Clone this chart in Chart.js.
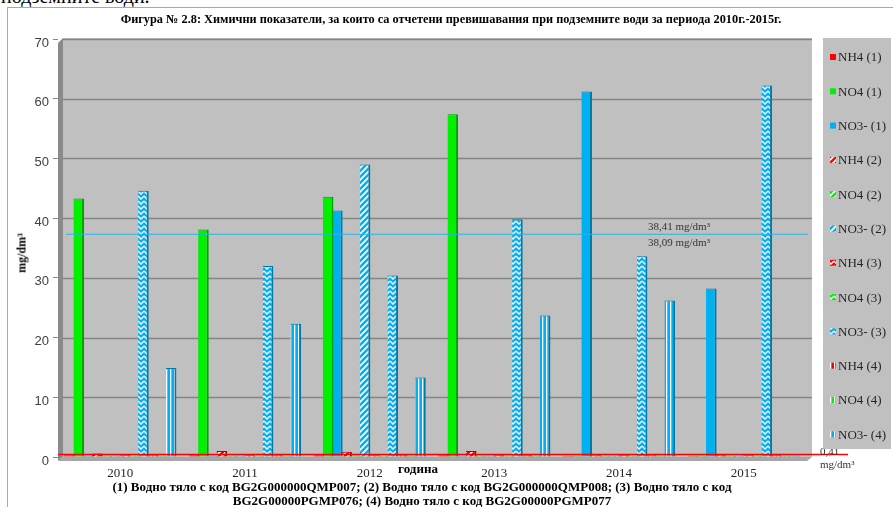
<!DOCTYPE html>
<html>
<head>
<meta charset="utf-8">
<script src="https://cdn.jsdelivr.net/npm/chart.js@4.4.1/dist/chart.umd.min.js"></script>
<style>
html, body { margin: 0; padding: 0; background: #fff; }
#wrap { position: relative; width: 893px; height: 507px; overflow: hidden; font-family: 'Liberation Serif', 'Times New Roman', serif; }
#frame { position: absolute; left: 7px; top: 7px; width: 900px; height: 520px; border-left: 1px solid #a8a8a8; border-top: 1px solid #a8a8a8; }
#chart { position: absolute; left: 0; top: 0; }
.txt { position: absolute; white-space: nowrap; color: #000; }
.c { transform: translateX(-50%); text-align: center; }
</style>
</head>
<body>
<div id="wrap">
  <div class="txt" style="left:1px;top:-15px;font-size:20px;line-height:22px;">подземните води.</div>
  <div id="frame"></div>
  <canvas id="chart" width="893" height="507"></canvas>
  <div class="txt c" style="left:451px;top:12px;font-size:12.3px;line-height:15px;font-weight:bold;">Фигура № 2.8: Химични показатели, за които са отчетени превишавания при подземните води за периода 2010г.-2015г.</div>
  <div class="txt" style="left:22px;top:253px;font-size:12px;font-weight:bold;transform:translate(-50%,-50%) rotate(-90deg);">mg/dm³</div>
  <div class="txt c" style="left:418px;top:461px;font-size:13px;line-height:15px;font-weight:bold;">година</div>
  <div class="txt c" style="left:422px;top:480px;font-size:13px;font-weight:bold;line-height:14px;">(1) Водно тяло с код BG2G000000QMP007; (2) Водно тяло с код BG2G000000QMP008; (3) Водно тяло с код<br>BG2G00000PGMP076; (4) Водно тяло с код BG2G00000PGMP077</div>
</div>
<script>
// Години (категории)
const years = ['2010', '2011', '2012', '2013', '2014', '2015'];

// Стойности по серии, mg/dm3 (отчетени от графиката)
const nh4_1 = [0.3, 0.3, 0.3, 0.3, 0.2, 0.2];
const no4_1 = [43.3, 38.1, 43.6, 57.4, 0.2, 0.2];
const no3_1 = [0.2, 0.2, 41.3, 0.2, 61.2, 28.2];
const nh4_2 = [0.6, 1.0, 0.9, 1.0, 0.3, 0.3];
const no4_2 = [0.2, 0.2, 0.2, 0.2, 0.2, 0.2];
const no3_2 = [0.2, 0.2, 49.0, 0.2, 0.2, 0.2];
const nh4_3 = [0.3, 0.3, 0.3, 0.3, 0.3, 0.3];
const no4_3 = [0.2, 0.2, 0.2, 0.2, 0.2, 0.2];
const no3_3 = [44.6, 32.0, 30.4, 39.8, 33.6, 62.2];
const nh4_4 = [0.3, 0.3, 0.3, 0.3, 0.3, 0.3];
const no4_4 = [0.2, 0.2, 0.2, 0.2, 0.2, 0.2];
const no3_4 = [14.9, 22.3, 13.3, 23.7, 26.2, 0.2];

// Тикове на оста Y
const yTicks = [0, 10, 20, 30, 40, 50, 60, 70];

// Прагове (хоризонтални линии)
const limitNO3 = 37.3;
const limitNH4 = 0.41;

const RED = '#ff0000', GREEN = '#00f000', BLUE = '#00b0f0';
const DARK = { [RED]: '#b00000', [GREEN]: '#00a000', [BLUE]: '#0078a8' };

// Шарки за сериите (2), (3), (4)
function makeFill(color, kind) {
    if (kind === 'solid') return color;
    const c = document.createElement('canvas');
    const g = c.getContext('2d');
    if (kind === 'diag') {
        c.width = 6; c.height = 6;
        g.fillStyle = color; g.fillRect(0, 0, 6, 6);
        g.strokeStyle = '#fff'; g.lineWidth = 1.7;
        [[-3, 3, 3, -3], [0, 6, 6, 0], [3, 9, 9, 3]].forEach(l => {
            g.beginPath(); g.moveTo(l[0], l[1]); g.lineTo(l[2], l[3]); g.stroke();
        });
    } else if (kind === 'zigzag') {
        c.width = 6; c.height = 5;
        g.fillStyle = color; g.fillRect(0, 0, 6, 5);
        g.strokeStyle = '#fff'; g.lineWidth = 1.3;
        g.beginPath(); g.moveTo(0, 1); g.lineTo(3, 4); g.lineTo(6, 1); g.stroke();
    } else {
        c.width = 4; c.height = 4;
        g.fillStyle = color; g.fillRect(0, 0, 4, 4);
        g.fillStyle = '#fff'; g.fillRect(2, 0, 1.3, 4);
    }
    return document.getElementById('chart').getContext('2d').createPattern(c, 'repeat');
}

const series = [
    ['NH4 (1)', nh4_1, RED, 'solid'], ['NO4 (1)', no4_1, GREEN, 'solid'], ['NO3- (1)', no3_1, BLUE, 'solid'],
    ['NH4 (2)', nh4_2, RED, 'diag'], ['NO4 (2)', no4_2, GREEN, 'diag'], ['NO3- (2)', no3_2, BLUE, 'diag'],
    ['NH4 (3)', nh4_3, RED, 'zigzag'], ['NO4 (3)', no4_3, GREEN, 'zigzag'], ['NO3- (3)', no3_3, BLUE, 'zigzag'],
    ['NH4 (4)', nh4_4, RED, 'vert'], ['NO4 (4)', no4_4, GREEN, 'vert'], ['NO3- (4)', no3_4, BLUE, 'vert']
];

const datasets = series.map(s => ({
    label: s[0],
    data: s[1],
    backgroundColor: makeFill(s[2], s[3]),
    borderColor: DARK[s[2]],
    borderWidth: { top: 1, right: 2, left: 0, bottom: 0 },
    borderSkipped: false,
    categoryPercentage: 0.889,
    barPercentage: 1.15
}));

// Фон, решетка, прагове и легенда
const decor = {
    id: 'decor',
    beforeDatasetsDraw(chart) {
        const { ctx, chartArea: a, scales: { y } } = chart;
        ctx.save();
        // задна стена
        ctx.fillStyle = '#c0c0c0';
        ctx.fillRect(a.left + 5, a.top - 1, a.right - a.left + 1, a.bottom - a.top + 1);
        // лява стена
        ctx.fillStyle = '#8a8a8a';
        ctx.beginPath();
        ctx.moveTo(a.left, a.top + 4); ctx.lineTo(a.left + 5, a.top - 1);
        ctx.lineTo(a.left + 5, a.bottom); ctx.lineTo(a.left, a.bottom + 4);
        ctx.closePath(); ctx.fill();
        // под
        ctx.fillStyle = '#a6a6a6';
        ctx.beginPath();
        ctx.moveTo(a.left, a.bottom + 4); ctx.lineTo(a.left + 5, a.bottom);
        ctx.lineTo(a.right + 6, a.bottom); ctx.lineTo(a.right + 1, a.bottom + 4);
        ctx.closePath(); ctx.fill();
        // решетка
        ctx.strokeStyle = '#858585'; ctx.lineWidth = 1.5;
        yTicks.forEach(v => {
            if (v === 0) return;
            const py = Math.round(y.getPixelForValue(v)) + 0.5;
            ctx.beginPath(); ctx.moveTo(a.left + 5, py); ctx.lineTo(a.right + 6, py); ctx.stroke();
        });
        ctx.restore();
    },
    afterDatasetsDraw(chart) {
        const { ctx, chartArea: a, scales: { y } } = chart;
        ctx.save();
        let py = y.getPixelForValue(limitNO3);
        ctx.strokeStyle = '#27b4e6'; ctx.lineWidth = 1.2;
        ctx.beginPath(); ctx.moveTo(a.left + 8, py); ctx.lineTo(a.right + 2, py); ctx.stroke();
        ctx.fillStyle = '#333';
        ctx.font = '11px "Liberation Serif"';
        ctx.textBaseline = 'middle';
        ctx.fillText('38,41 mg/dm³', 648, py - 7);
        ctx.fillText('38,09 mg/dm³', 648, py + 9);

        py = y.getPixelForValue(limitNH4);
        ctx.strokeStyle = '#ff0000'; ctx.lineWidth = 1.5;
        ctx.beginPath(); ctx.moveTo(a.left, py); ctx.lineTo(848, py); ctx.stroke();
        ctx.fillText('0,41', 820, 452);
        ctx.fillText('mg/dm³', 820, 465);
        ctx.restore();
    },
    afterDraw(chart) {
        const ctx = chart.ctx;
        ctx.save();
        ctx.fillStyle = '#c0c0c0';
        ctx.fillRect(823, 38, 68, 411);
        ctx.font = '13px "Liberation Serif"';
        ctx.textBaseline = 'middle';
        chart.data.datasets.forEach((ds, i) => {
            const ly = 57 + i * 34.3;
            ctx.fillStyle = ds.backgroundColor;
            ctx.fillRect(830, ly - 3, 6, 6);
            ctx.fillStyle = '#262626';
            ctx.fillText(ds.label, 838, ly + 1);
        });
        ctx.restore();
    }
};

new Chart(document.getElementById('chart'), {
    type: 'bar',
    data: { labels: years, datasets: datasets },
    options: {
        responsive: false,
        animation: false,
        layout: { padding: { left: 0, right: 87, top: 39, bottom: 0 } },
        plugins: { legend: { display: false }, tooltip: { enabled: false } },
        scales: {
            x: {
                afterFit: s => { s.height = 50; },
                grid: { display: false },
                border: { display: false },
                ticks: { color: '#262626', padding: 1, font: { family: 'Liberation Serif', size: 13 } }
            },
            y: {
                min: 0, max: 70,
                afterFit: s => { s.width = 58; },
                afterBuildTicks: s => { s.ticks = yTicks.map(v => ({ value: v })); },
                border: { display: false },
                grid: { drawOnChartArea: false, drawTicks: true, tickLength: 5, tickColor: '#8a8a8a', lineWidth: 1 },
                ticks: { color: '#404040', padding: 4, labelOffset: 4, font: { family: 'Liberation Sans', size: 13 } }
            }
        }
    },
    plugins: [decor]
});
</script>
</body>
</html>
